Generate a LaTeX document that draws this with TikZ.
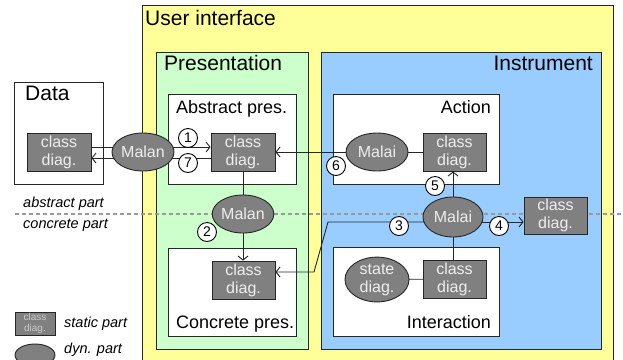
\documentclass[tikz,border=0pt]{standalone}
\usepackage{fontspec}
\setmainfont{Liberation Sans}
\usetikzlibrary{shapes.geometric,arrows.meta}
\definecolor{uiyellow}{HTML}{FFFF99}
\definecolor{presgreen}{HTML}{CCFFCC}
\definecolor{instblue}{HTML}{99CCFF}
\definecolor{dyngray}{HTML}{808080}
\definecolor{lighttxt}{HTML}{EEEEEE}
\pgfdeclarelayer{bg}
\pgfdeclarelayer{edges}
\pgfsetlayers{bg,edges,main}
\tikzset{
  panel/.style={draw=black!85, line width=0.9bp},
  classbox/.style={rectangle, draw=black!85, line width=0.9bp, fill=dyngray, text=lighttxt,
    minimum width=64bp, minimum height=38bp, inner sep=0pt, align=center,
    font=\fontsize{16bp}{18bp}\selectfont},
  dynpart/.style={ellipse, draw=black!85, line width=0.9bp, fill=dyngray, text=lighttxt,
    minimum width=62bp, minimum height=38bp, inner sep=0pt, align=center,
    font=\fontsize{16bp}{18bp}\selectfont},
  num/.style={circle, draw=black, line width=0.9bp, fill=white, inner sep=0pt, minimum size=19bp,
    font=\fontsize{14bp}{14bp}\selectfont},
  conn/.style={draw=black!85, line width=0.9bp},
  arr/.style={conn, -{Straight Barb[length=4bp,width=10bp]}},
  big/.style={inner sep=0pt, font=\fontsize{21bp}{24bp}\selectfont},
  mid/.style={inner sep=0pt, font=\fontsize{18bp}{20bp}\selectfont},
  note/.style={inner sep=0pt, font=\fontsize{14.5bp}{16bp}\selectfont\itshape},
}
\begin{document}
\begin{tikzpicture}[x=1bp,y=-1bp]
\useasboundingbox (0,0) rectangle (623,359);
\clip (0,0) rectangle (623,359);
\begin{pgfonlayer}{bg}
  \fill[white] (0,0) rectangle (623,359);
  \draw[panel, fill=uiyellow] (142,5) rectangle (613,380);
  \draw[panel, fill=presgreen] (156,52) rectangle (308,349);
  \draw[panel, fill=instblue] (321,52) rectangle (601,349);
  \draw[panel, fill=white] (14,82) rectangle (103,184);
  \draw[panel, fill=white] (168,94) rectangle (296,184);
  \draw[panel, fill=white] (333,94) rectangle (499,184);
  \draw[panel, fill=white] (168,248) rectangle (296,336);
  \draw[panel, fill=white] (333,247) rectangle (499,336);
  \draw[draw=black!40, line width=2bp, dash pattern=on 4bp off 3bp] (15,214) -- (623,214);
\end{pgfonlayer}

% titles
\node[big, anchor=base west] (tui) at (145,25) {User interface};
\node[big, anchor=base west] (tpres) at (164,70) {Presentation};
\node[big, anchor=base east] (tinst) at (593,70) {Instrument};
\node[big, anchor=base west] (tdata) at (25,100) {Data};
\node[mid, anchor=base west] (tabs) at (176,113) {Abstract pres.};
\node[mid, anchor=base east] (tact) at (491,113) {Action};
\node[mid, anchor=base west] (tcon) at (176,328) {Concrete pres.};
\node[mid, anchor=base east] (tint) at (491,328) {Interaction};
\node[note, anchor=base west] (tap) at (23,207) {abstract part};
\node[note, anchor=base west] (tcp) at (23,228) {concrete part};
\node[note, anchor=base west] (tsp) at (64,327) {static part};
\node[note, anchor=base west] (tdp) at (64,353) {dyn. part};

% parts
\node[classbox] (dcd) at (59,152) {class\\diag.};
\node[dynpart] (malan1) at (143,152) {Malan};
\node[classbox] (acd) at (243,152) {class\\diag.};
\node[dynpart] (malai1) at (377,152) {Malai};
\node[classbox, minimum width=63bp] (actcd) at (454.5,152) {class\\diag.};
\node[dynpart, minimum width=61bp] (malan2) at (243,214) {Malan};
\node[classbox, minimum width=63bp] (ccd) at (243.5,280) {class\\diag.};
\node[dynpart, minimum width=60bp, minimum height=40bp] (malai2) at (453,217) {Malai};
\node[classbox, minimum width=63bp, minimum height=37bp] (rcd) at (555.5,215.5) {class\\diag.};
\node[classbox, minimum width=63bp] (icd) at (454.5,279) {class\\diag.};
\node[dynpart, minimum width=64bp] (state) at (377,279.5) {state\\diag.};

% legend
\node[classbox, minimum width=40bp, minimum height=23bp, text=black!20,
  font=\fontsize{10bp}{11bp}\selectfont] (lcd) at (35,323.5) {class\\diag.};
\node[dynpart, minimum width=40bp, minimum height=22bp] (ldyn) at (35,355) {};

% connectors
\coordinate (m2o) at ([yshift=-5bp]malai2.center);
\coordinate (b1) at (328,222);
\coordinate (b2) at (314,272);
\begin{pgfonlayer}{edges}
  \draw[arr] ([yshift=5bp]dcd.east) -- ([yshift=5bp]acd.west);
  \draw[arr] ([yshift=-6bp]acd.west) -- ([yshift=-6bp]dcd.east);
  \draw[arr] (malai1.center) -- (acd.east);
  \draw[conn] (malai1.center) -- (actcd.center);
  \draw[arr] (malai2.north) -- (malai2.north |- actcd.south);
  \draw[conn] (acd.south) -- (malan2.north);
  \draw[arr] (malan2.south) -- (malan2.south |- ccd.north);
  \draw[arr] (m2o) -- (b1) -- (b2) -- (b2 -| ccd.east);
  \draw[arr] (m2o) -- (m2o -| rcd.west);
  \draw[conn] (malai2.south) -- (malai2.south |- icd.north);
  \draw[conn] (state.center) -- (icd.center);
\end{pgfonlayer}

% numbers
\node[num] (n1) at (188,138) {1};
\node[num] (n7) at (188,163) {7};
\node[num] (n6) at (336,166) {6};
\node[num] (n5) at (435,186) {5};
\node[num] (n3) at (399,226) {3};
\node[num] (n4) at (499,226) {4};
\node[num] (n2) at (207,232) {2};
\end{tikzpicture}
\end{document}
